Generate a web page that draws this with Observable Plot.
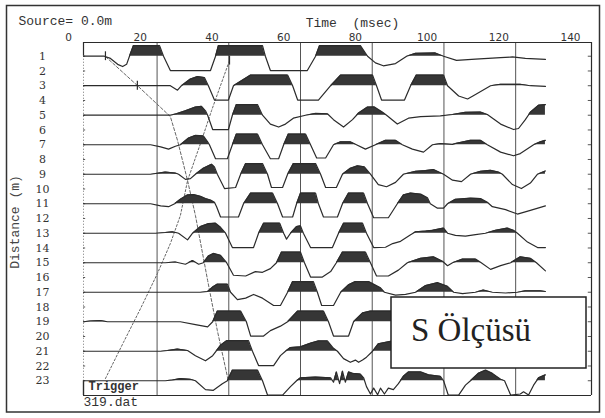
<!DOCTYPE html>
<html><head><meta charset="utf-8">
<script src="https://cdn.jsdelivr.net/npm/d3@7"></script>
<script src="https://cdn.jsdelivr.net/npm/@observablehq/plot@0.6"></script>
<style>body{margin:0;background:#fff} svg text{white-space:pre}</style>
</head><body><div id="chart"></div><script>
// ---- data (time in ms, amplitude in row units, + = up) ----
const rows = d3.range(1, 24);
const tickLabels = [0, 20, 40, 60, 80, 100, 120, 140];
const gridTimes = [24.7, 44.7, 64.7, 84.7, 104.7, 124.7];
const traceRows = [1, 3, 5, 7, 9, 11, 13, 15, 17, 19, 21, 23];

const trace1 = [[4.2,0],[10.0,0],[11.7,-0.15],[13.7,-0.55],[15.1,-0.7],[16.2,-0.55],[17.0,0],[18.1,0.72],[25.4,0.72],[26.5,0],[28.4,-0.97],[39.6,-0.97],[41.0,0],[41.8,0.72],[54.1,0.72],[54.9,0],[56.3,-0.97],[66.6,-0.97],[68.9,0],[70.0,0.72],[81.4,0.72],[83.4,0],[85.6,-0.45],[87.8,-0.65],[91.2,-0.5],[94.3,0],[96.8,0.2],[102.3,0.22],[104.6,0],[108.2,-0.28],[113.5,-0.2],[120.5,-0.1],[123.8,-0.05],[127.4,-0.15],[133.0,-0.22]];
const trace3 = [[4.2,0],[18.7,0],[28.4,0],[30.4,-0.3],[31.5,0],[34.0,0.45],[36.0,0.62],[37.9,0.55],[39.0,0],[40.7,-0.97],[44.6,-0.97],[46.0,0],[50.8,0.72],[61.1,0.72],[62.5,0],[63.9,-0.97],[69.7,-0.97],[73.1,0],[75.9,0.72],[84.8,0.72],[85.9,0],[87.3,-0.97],[93.7,-0.97],[95.4,0],[97.0,0.72],[104.6,0.72],[105.7,0],[108.8,-0.7],[111.3,-0.9],[113.5,-0.6],[117.7,0],[120.5,0.1],[126.0,0.1],[128.8,0],[133.0,-0.05]];
const trace5 = [[4.2,0],[28.4,0],[30.1,0.1],[32.6,0.3],[35.4,0.55],[37.1,0.6],[38.2,0.3],[38.8,0],[40.2,-0.97],[44.6,-0.97],[45.7,0],[46.8,0.72],[52.7,0.72],[54.1,0],[56.3,-0.6],[58.6,-0.8],[60.5,-0.6],[62.7,-0.2],[66.1,0],[68.9,0.12],[72.2,0.1],[73.9,-0.3],[76.7,-0.8],[79.2,-0.3],[80.9,0.15],[83.4,0.55],[85.3,0.56],[87.6,0.2],[88.7,0],[91.7,-0.6],[94.8,-0.2],[98.2,-0.1],[103.7,-0.05],[107.1,0.05],[110.7,0.2],[114.9,0.22],[116.8,0.05],[120.5,-0.6],[124.1,-0.97],[125.5,-0.9],[127.4,-0.3],[128.8,0.2],[131.1,0.68],[133.0,0.72]];
const trace7 = [[4.2,0],[22.9,0],[25.7,-0.15],[27.9,-0.3],[29.8,-0.1],[31.2,0],[33.5,0.45],[35.4,0.63],[37.6,0.6],[38.8,0.2],[39.3,0],[41.0,-0.95],[44.3,-0.95],[45.7,0],[46.8,0.72],[52.7,0.72],[54.1,0],[56.3,-0.95],[58.6,-0.95],[60.0,0],[61.3,0.72],[66.1,0.72],[67.5,0],[69.2,-0.9],[71.7,-0.9],[73.9,0],[75.9,0.2],[78.6,0.2],[80.3,0],[82.8,-0.3],[85.6,0],[88.4,0.3],[91.2,0.3],[93.1,0],[95.9,-0.3],[99.0,-0.5],[101.5,0],[103.7,0.07],[107.1,0.02],[108.2,0.1],[112.1,0.3],[114.9,0.3],[116.8,0],[120.5,-0.5],[124.1,-0.75],[126.0,-0.6],[129.7,0],[131.6,0.2],[133.0,0.3]];
const trace9 = [[4.2,0],[22.9,0],[24.3,0.05],[27.0,0.15],[29.8,0.08],[30.7,0],[32.6,-0.35],[34.0,-0.3],[35.4,0],[37.6,0.4],[39.9,0.68],[40.7,0.5],[41.5,0],[43.5,-0.97],[46.6,-0.9],[48.0,0],[49.4,0.72],[54.1,0.72],[55.5,0],[56.6,-0.9],[59.7,-0.9],[61.1,0],[62.7,0.72],[68.9,0.72],[70.3,0],[71.7,-0.9],[74.7,-0.9],[76.4,0],[78.6,0.4],[80.6,0.57],[82.5,0.5],[84.2,0],[86.4,-0.7],[88.7,-0.85],[91.2,-0.55],[93.4,0],[96.8,0.2],[99.6,0.25],[101.8,0.32],[104.6,0],[107.1,-0.4],[109.6,-0.5],[112.1,0],[114.9,0.2],[117.7,0.27],[119.9,0.15],[121.0,0],[123.8,-0.7],[126.3,-0.97],[128.8,-0.6],[130.8,0],[133.0,0.22]];
const trace11 = [[4.2,0],[22.9,0],[25.7,-0.15],[27.9,-0.2],[29.6,0],[31.2,0.3],[33.2,0.6],[34.9,0.62],[36.8,0.5],[38.2,0.35],[39.6,0.25],[40.7,0.1],[41.3,-0.2],[42.4,-0.9],[47.4,-0.9],[48.8,0],[50.8,0.72],[56.9,0.72],[58.3,0],[59.7,-0.9],[62.5,-0.9],[63.6,0],[64.7,0.72],[68.9,0.72],[69.7,0],[71.1,-0.9],[75.0,-0.9],[76.4,0],[78.1,0.72],[82.3,0.72],[83.4,0],[85.1,-0.95],[89.2,-0.95],[91.7,0],[93.4,0.6],[95.4,0.72],[98.2,0.65],[100.1,0.4],[100.9,0],[102.9,-0.3],[104.6,-0.3],[105.7,0],[107.9,0.3],[112.1,0.38],[114.9,0.35],[116.8,0.1],[118.2,-0.2],[121.9,-0.4],[125.2,-0.7],[128.8,-0.45],[133.0,-0.15]];
const trace13 = [[4.2,0],[24.3,0],[27.0,0.05],[29.0,0.1],[30.7,0],[33.2,-0.45],[34.6,0],[36.8,0.45],[39.0,0.65],[41.0,0.68],[42.4,0.4],[43.8,0],[45.7,-0.97],[51.6,-0.97],[53.0,0],[54.4,0.68],[58.9,0.68],[60.0,0],[60.8,-0.4],[61.9,0],[63.6,0.45],[64.7,0.5],[65.5,0],[67.5,-0.97],[73.6,-0.97],[75.3,0],[76.7,0.68],[82.0,0.68],[83.1,0],[85.1,-0.97],[88.4,-0.95],[90.4,-0.7],[92.6,-0.55],[95.4,-0.1],[96.8,0.1],[99.6,0.15],[101.5,0.2],[104.6,0.35],[105.7,0],[107.9,-0.15],[110.7,-0.2],[113.5,-0.1],[116.3,0],[119.1,0.2],[122.4,0.35],[124.1,0.2],[125.2,0],[128.0,-0.6],[130.8,-0.97],[133.0,-0.97]];
const trace15 = [[4.2,0],[27.0,0],[29.8,0.05],[32.6,-0.1],[34.6,0.15],[36.3,-0.1],[37.6,0],[39.0,0.45],[40.4,0.63],[42.4,0.5],[44.1,0],[46.0,-0.85],[49.4,-0.9],[52.1,-0.6],[54.1,-0.65],[56.3,-0.4],[58.0,0],[59.4,0.72],[64.7,0.72],[65.8,0],[67.5,-0.97],[70.8,-0.97],[73.1,-0.6],[74.7,0],[76.4,0.72],[82.8,0.72],[84.2,0],[85.9,-0.9],[89.2,-0.9],[92.0,-0.5],[94.5,0],[98.2,0.3],[101.8,0.4],[104.3,0.1],[105.7,-0.2],[107.1,0],[109.9,0.25],[113.5,0.25],[115.1,0],[117.7,-0.45],[120.5,-0.2],[123.3,0],[126.0,0.4],[128.8,0.3],[130.5,0],[133.0,-0.55]];
const trace17 = [[4.2,0],[36.8,0],[38.8,0.05],[40.2,0.35],[41.5,0.55],[44.3,0.55],[45.2,0],[47.1,-0.5],[49.4,-0.4],[51.6,-0.15],[54.1,-0.4],[57.2,-0.9],[59.1,-0.9],[61.1,0],[62.5,0.72],[68.3,0.72],[69.4,0],[70.6,-0.9],[73.9,-0.9],[75.9,0],[78.1,0.5],[80.0,0.72],[83.7,0.72],[87.0,0.3],[88.1,0],[91.2,-0.2],[94.0,-0.15],[96.8,0],[99.6,0.45],[102.9,0.65],[105.7,0.4],[107.4,0],[109.9,-0.1],[113.5,0],[115.7,0.15],[118.2,0],[121.9,-0.05],[125.2,0],[127.4,0.1],[131.6,0.1],[133.0,0.05]];
const trace19 = [[4.2,0],[6.1,0.05],[8.9,0.08],[10.9,0],[31.2,0],[35.4,-0.2],[38.8,-0.35],[40.2,0],[41.5,0.72],[48.0,0.72],[49.6,0],[50.8,-0.97],[54.4,-0.97],[56.3,-0.6],[59.1,-0.3],[61.1,0],[63.9,0.72],[71.1,0.72],[72.5,0],[73.9,-0.97],[78.1,-0.97],[79.5,0],[82.0,0.6],[84.2,0.72],[90.4,0.72],[95.4,0.5],[100.9,-0.3],[106.5,0.2],[114.9,0.3],[120.5,-0.3],[126.0,0.2],[133.0,0.1]];
const trace21 = [[4.2,0],[25.7,0],[27.6,0.05],[30.4,0.15],[33.2,0.05],[35.4,-0.3],[38.2,-0.65],[40.2,-0.3],[42.4,0.4],[44.1,0.72],[50.2,0.72],[51.3,0],[53.0,-0.97],[57.2,-0.97],[59.1,-0.3],[60.5,0],[61.9,0.25],[64.7,0.3],[67.5,0.55],[69.7,0.7],[72.2,0.7],[73.9,0.2],[75.0,0],[76.7,-0.5],[78.6,-0.75],[80.0,-0.6],[80.9,-0.75],[82.0,-0.6],[83.1,-0.4],[84.8,0],[86.4,0.5],[90.4,0.7],[95.4,0.3],[100.9,-0.3],[109.3,0.3],[120.5,-0.3],[133.0,0]];
const trace23 = [[4.2,0],[27.0,0],[29.0,0.05],[31.2,0.15],[34.0,0.1],[35.4,0],[38.2,-0.6],[40.4,-0.65],[42.9,-0.2],[44.3,0],[45.7,0.72],[52.7,0.72],[54.1,0],[55.5,-0.97],[59.7,-0.97],[61.9,-0.4],[63.6,0],[64.7,0.2],[68.9,0.25],[73.1,0.2],[73.9,-0.1],[74.7,0.6],[75.6,-0.2],[76.4,0.65],[77.2,-0.1],[78.1,0.6],[79.2,0.5],[81.4,0.45],[82.3,0.2],[83.1,-0.4],[84.2,-0.9],[85.1,-0.5],[86.2,-0.95],[87.0,-0.5],[88.1,-0.9],[89.2,-0.5],[90.6,-0.6],[92.0,-0.2],[93.4,0.3],[94.8,0.6],[98.2,0.6],[100.4,0.4],[103.7,0.3],[104.6,0],[105.9,-0.97],[108.8,-0.97],[110.7,-0.3],[112.1,0],[114.3,0.5],[116.3,0.72],[118.2,0.5],[120.5,0.1],[121.6,0],[123.3,-0.97],[126.0,-0.9],[126.9,-0.75],[128.3,-0.97],[129.7,-0.3],[131.1,0.2],[133.0,0.4]];
const traceData = [trace1, trace3, trace5, trace7, trace9, trace11, trace13, trace15, trace17, trace19, trace21, trace23];

// first-arrival pick lines [time, row]
const pickA = [[10.3,1.02],[19.2,2.99],[28.4,5.09],[30.4,6.71],[33.2,9.43],[35.4,11.8],[38.8,16.2],[41.5,19.59],[44.6,23.05]];
const pickB = [[10.3,22.85],[15.3,20.41],[20.1,18.1],[24.8,15.73],[28.4,13.7],[31.2,11.8],[33.2,9.43],[37.1,6.71],[39.9,4.68],[44.9,1.29]];
const pickMarks = [[10.3,1.0],[19.2,3.0],[44.9,1.3]];

// ---- layout ----
const xDomain = [4.18, 145.85];
const yDomain = [0.07, 24.0];
const ink = "#2b2b2b";

function fillPts(tr) {
  const out = [];
  for (let i = 0; i < tr.length; i++) {
    const [t, a] = tr[i];
    if (i > 0) {
      const [t0, a0] = tr[i - 1];
      if ((a0 > 0 && a < 0) || (a0 < 0 && a > 0)) out.push([t0 + (t - t0) * (a0 / (a0 - a)), 0]);
    }
    out.push([t, Math.max(a, 0)]);
  }
  return out;
}
const lineRecs = traceRows.flatMap((r, i) => traceData[i].map(([t, a]) => ({row: r, t, y: r - a})));
const fillRecs = traceRows.flatMap((r, i) => fillPts(traceData[i]).map(([t, a]) => ({row: r, t, y1: r, y2: r - a})));

const mono = "Liberation Mono";
const svg = Plot.plot({
  width: 605, height: 418,
  marginLeft: 83, marginRight: 14, marginTop: 42, marginBottom: 23,
  x: {domain: xDomain, axis: null},
  y: {domain: yDomain, reverse: true, axis: null},
  style: {background: "#fff", overflow: "visible"},
  marks: [
    Plot.ruleX(gridTimes, {y1: yDomain[0], y2: yDomain[1], stroke: "#555", strokeWidth: 1}),
    // frame
    Plot.ruleY([yDomain[0]], {x1: xDomain[0], x2: xDomain[1], stroke: ink, strokeWidth: 1.2}),
    Plot.ruleY([yDomain[1]], {x1: xDomain[0], x2: xDomain[1], stroke: ink, strokeWidth: 1.2}),
    Plot.ruleX([xDomain[1]], {y1: yDomain[0], y2: yDomain[1], stroke: ink, strokeWidth: 1.2}),
    Plot.ruleX([xDomain[0]], {y1: yDomain[0], y2: 1, stroke: ink, strokeWidth: 1.2}),
    Plot.ruleX([xDomain[0]], {y1: 1, y2: 23, stroke: "#777", strokeDasharray: "1,2"}),
    Plot.ruleX([xDomain[0]], {y1: 23, y2: yDomain[1], stroke: ink, strokeWidth: 1.4}),
    Plot.ruleY(rows, {y: d => d, x1: xDomain[0], x2: xDomain[0] + 0.6, stroke: "#555"}),
    Plot.ruleY(rows, {y: d => d, x1: xDomain[1] - 0.9, x2: xDomain[1], stroke: "#555"}),
    // pick lines
    Plot.line(pickA, {x: d => d[0], y: d => d[1], stroke: "#666", strokeWidth: 1, strokeDasharray: "3,2"}),
    Plot.line(pickB, {x: d => d[0], y: d => d[1], stroke: "#666", strokeWidth: 1, strokeDasharray: "2,2"}),
    // traces
    Plot.areaY(fillRecs, {x: "t", y1: "y1", y2: "y2", z: "row", fill: "#363636"}),
    Plot.line(lineRecs, {x: "t", y: "y", z: "row", stroke: ink, strokeWidth: 1.2}),
    Plot.ruleX(pickMarks, {x: d => d[0], y1: d => d[1] - 0.3, y2: d => d[1] + 0.3, stroke: ink, strokeWidth: 1.2}),
    // labels
    Plot.text(tickLabels, {x: d => d, text: d => String(d), frameAnchor: "top", dy: -9, fontFamily: "DejaVu Sans", fontSize: 10.5, fill: "#333"}),
    Plot.text(rows, {y: d => d, text: d => String(d), frameAnchor: "left", dx: -41, textAnchor: "middle", fontFamily: "DejaVu Serif", fontSize: 11, fill: "#333"}),
    Plot.text(["Source= 0.0m"], {frameAnchor: "top-left", dx: -65, dy: -27, textAnchor: "start", fontFamily: mono, fontSize: 13, fill: "#333"}),
    Plot.text(["Time  (msec)"], {frameAnchor: "top", dx: 15, dy: -25, textAnchor: "middle", fontFamily: mono, fontSize: 13, fill: "#333"}),
    Plot.text(["Distance (m)"], {frameAnchor: "left", dx: -69, dy: 3, rotate: -90, textAnchor: "middle", fontFamily: mono, fontSize: 13, letterSpacing: 0.8, fill: "#444"}),
    Plot.text(["Trigger"], {frameAnchor: "bottom-left", dx: 5, dy: -6, textAnchor: "start", fontFamily: mono, fontSize: 12, fontWeight: "bold", fill: "#333"}),
    Plot.text(["319.dat"], {frameAnchor: "bottom-left", dx: 0, dy: 10, textAnchor: "start", fontFamily: mono, fontSize: 13, letterSpacing: 1.2, fill: "#333"})
  ]
});
document.getElementById("chart").appendChild(svg);

// annotation box and outer border
const s = d3.select(svg);
s.append("rect").attr("x", 391).attr("y", 297).attr("width", 195).attr("height", 71)
  .attr("fill", "#fff").attr("stroke", "#222").attr("stroke-width", 1.5);
s.append("text").attr("x", 411).attr("y", 341).attr("text-anchor", "start")
  .attr("font-family", "Liberation Serif").attr("font-size", 33).attr("fill", "#222").text("S Ölçüsü");
s.append("rect").attr("x", 6.5).attr("y", 5.5).attr("width", 593).attr("height", 406.5)
  .attr("fill", "none").attr("stroke", "#333").attr("stroke-width", 1.5);
</script></body></html>
